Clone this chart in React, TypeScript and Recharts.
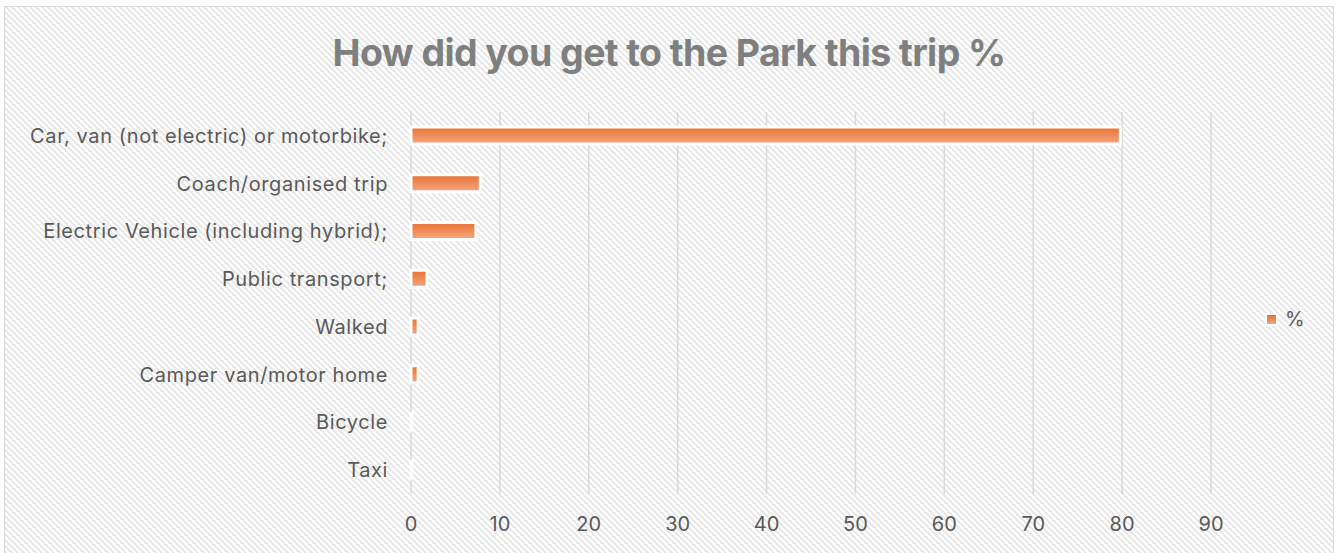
import React from "react";
import { BarChart, Bar, XAxis, YAxis, CartesianGrid, Legend } from "recharts";

const modes = [
  "Car, van (not electric) or motorbike;",
  "Coach/organised trip",
  "Electric Vehicle (including hybrid);",
  "Public transport;",
  "Walked",
  "Camper van/motor home",
  "Bicycle",
  "Taxi",
];
const percent = [79.8, 7.8, 7.3, 1.8, 0.8, 0.8, 0.1, 0.1];
const xTicks = [0, 10, 20, 30, 40, 50, 60, 70, 80, 90];

const chartData = modes.map((mode, i) => ({ mode, pct: percent[i] }));

const font = "Inter, 'Open Sans', sans-serif";

// pixel-aligned diagonal hatch tile for the chart background
const hatchRects = [0, 1, 2, 3, 4, 5]
  .map((y) => {
    const w = Math.min(3, 6 - y);
    let r = `<rect x='${y}' y='${y}' width='${w}' height='1'/>`;
    if (w < 3) r += `<rect x='0' y='${y}' width='${3 - w}' height='1'/>`;
    return r;
  })
  .join("");
const hatch = `url("data:image/svg+xml;utf8,<svg xmlns='http://www.w3.org/2000/svg' width='6' height='6' shape-rendering='crispEdges'><rect width='6' height='6' fill='%23ffffff'/><g fill='%23e9e9e9'>${hatchRects}</g></svg>")`;

function LegendBox() {
  return (
    <div style={{ display: "flex", alignItems: "center", fontFamily: font, fontSize: 20, color: "#595959" }}>
      <span
        style={{
          width: 9,
          height: 9,
          background: "linear-gradient(#e97132, #f3a67e)",
          outline: "2px solid #fff",
          marginRight: 9,
        }}
      />
      %
    </div>
  );
}

export default function App() {
  return (
    <div
      style={{
        position: "absolute",
        left: 4,
        top: 6,
        width: 1328,
        height: 550,
        border: "1px solid #d9d9d9",
        backgroundImage: hatch,
      }}
    >
      <div
        style={{
          position: "absolute",
          left: 0,
          right: 0,
          top: 23,
          textAlign: "center",
          fontFamily: font,
          fontWeight: 700,
          fontSize: 37.5,
          color: "#7f7f7f",
          letterSpacing: -0.6,
        }}
      >
        How did you get to the Park this trip %
      </div>
      <BarChart
        width={1328}
        height={548}
        layout="vertical"
        data={chartData}
        margin={{ top: 105, right: 80, bottom: 31, left: 0 }}
      >
        <defs>
          <linearGradient id="barFill" x1="0" y1="0" x2="0" y2="1">
            <stop offset="0%" stopColor="#e97132" />
            <stop offset="100%" stopColor="#f4a882" />
          </linearGradient>
        </defs>
        <CartesianGrid horizontal={false} stroke="#d9d9d9" strokeWidth={1.5} />
        <XAxis
          type="number"
          domain={[0, 90]}
          ticks={xTicks}
          axisLine={false}
          tickLine={false}
          tickMargin={17}
          height={30}
          tick={{ fill: "#595959", fontSize: 20, fontFamily: font }}
        />
        <YAxis
          type="category"
          dataKey="mode"
          width={406}
          axisLine={false}
          tickLine={false}
          tickMargin={17}
          interval={0}
          tick={{ fill: "#595959", fontSize: 20, fontFamily: font, letterSpacing: 0.6 }}
        />
        <Legend
          layout="vertical"
          align="right"
          verticalAlign="middle"
          width={42}
          wrapperStyle={{ left: 1262, top: 300, right: "auto", bottom: "auto" }}
          content={() => <LegendBox />}
        />
        <Bar
          dataKey="pct"
          name="%"
          fill="url(#barFill)"
          stroke="#ffffff"
          strokeWidth={3}
          barSize={17}
          isAnimationActive={false}
        />
      </BarChart>
    </div>
  );
}
